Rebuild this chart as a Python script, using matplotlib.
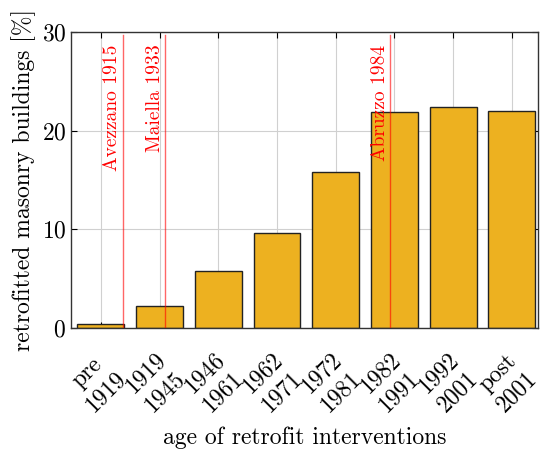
import matplotlib
matplotlib.use("Agg")
import matplotlib.pyplot as plt

plt.rcParams["font.family"] = ["cmr10", "DejaVu Serif"]
plt.rcParams["axes.formatter.use_mathtext"] = True
plt.rcParams["mathtext.fontset"] = "cm"

periods = ["pre\n1919", "1919\n1945", "1946\n1961", "1962\n1971",
           "1972\n1981", "1982\n1991", "1992\n2001", "post\n2001"]
share = [0.4, 2.2, 5.8, 9.6, 15.8, 21.9, 22.4, 22.0]

quake_names = ["Avezzano 1915", "Maiella 1933", "Abruzzo 1984"]
quake_pos = [1.37, 2.1, 5.93]

fig = plt.figure(figsize=(5.42, 4.59), dpi=100)
ax = fig.add_axes([0.131, 0.285, 0.862, 0.646])

x = list(range(1, len(share) + 1))
ax.bar(x, share, width=0.8, color="#EDB120", edgecolor="#222222", linewidth=1.0, zorder=2)

for name, pos in zip(quake_names, quake_pos):
    ax.plot([pos, pos], [0, 29.7], color="red", alpha=0.6, linewidth=1.0, zorder=3)
    ax.text(pos - 0.03, 28.7, name, rotation=90, color="red", fontsize=14,
            ha="right", va="top", zorder=4)

ax.set_xlim(0.49, 8.45)
ax.set_ylim(0, 30)
ax.set_yticks([0, 10, 20, 30])
ax.set_xticks(x)
ax.set_xticklabels([])
# rotated two-line tick labels, placed by hand so the corner sits under the tick
for xi, lab in zip(x, periods):
    ax.annotate(lab, xy=(xi, 0), xycoords=("data", "axes fraction"),
                xytext=(-3.5, -14.5), textcoords="offset points",
                rotation=45, ha="right", va="top", rotation_mode="anchor",
                multialignment="center", linespacing=1.25, fontsize=17,
                annotation_clip=False)

ax.tick_params(direction="in", top=True, right=True, labelsize=17, length=4, width=0.8)
ax.grid(True, color="#d0d0d0", linewidth=0.8)
ax.set_axisbelow(True)
for s in ax.spines.values():
    s.set_color("#333333")
    s.set_linewidth(1.0)

ax.set_ylabel("retrofitted masonry buildings [%]", fontsize=17, labelpad=4)
ax.set_xlabel("age of retrofit interventions", fontsize=17)
ax.xaxis.set_label_coords(0.5, -0.333)

fig.savefig("out.png", dpi=100)
